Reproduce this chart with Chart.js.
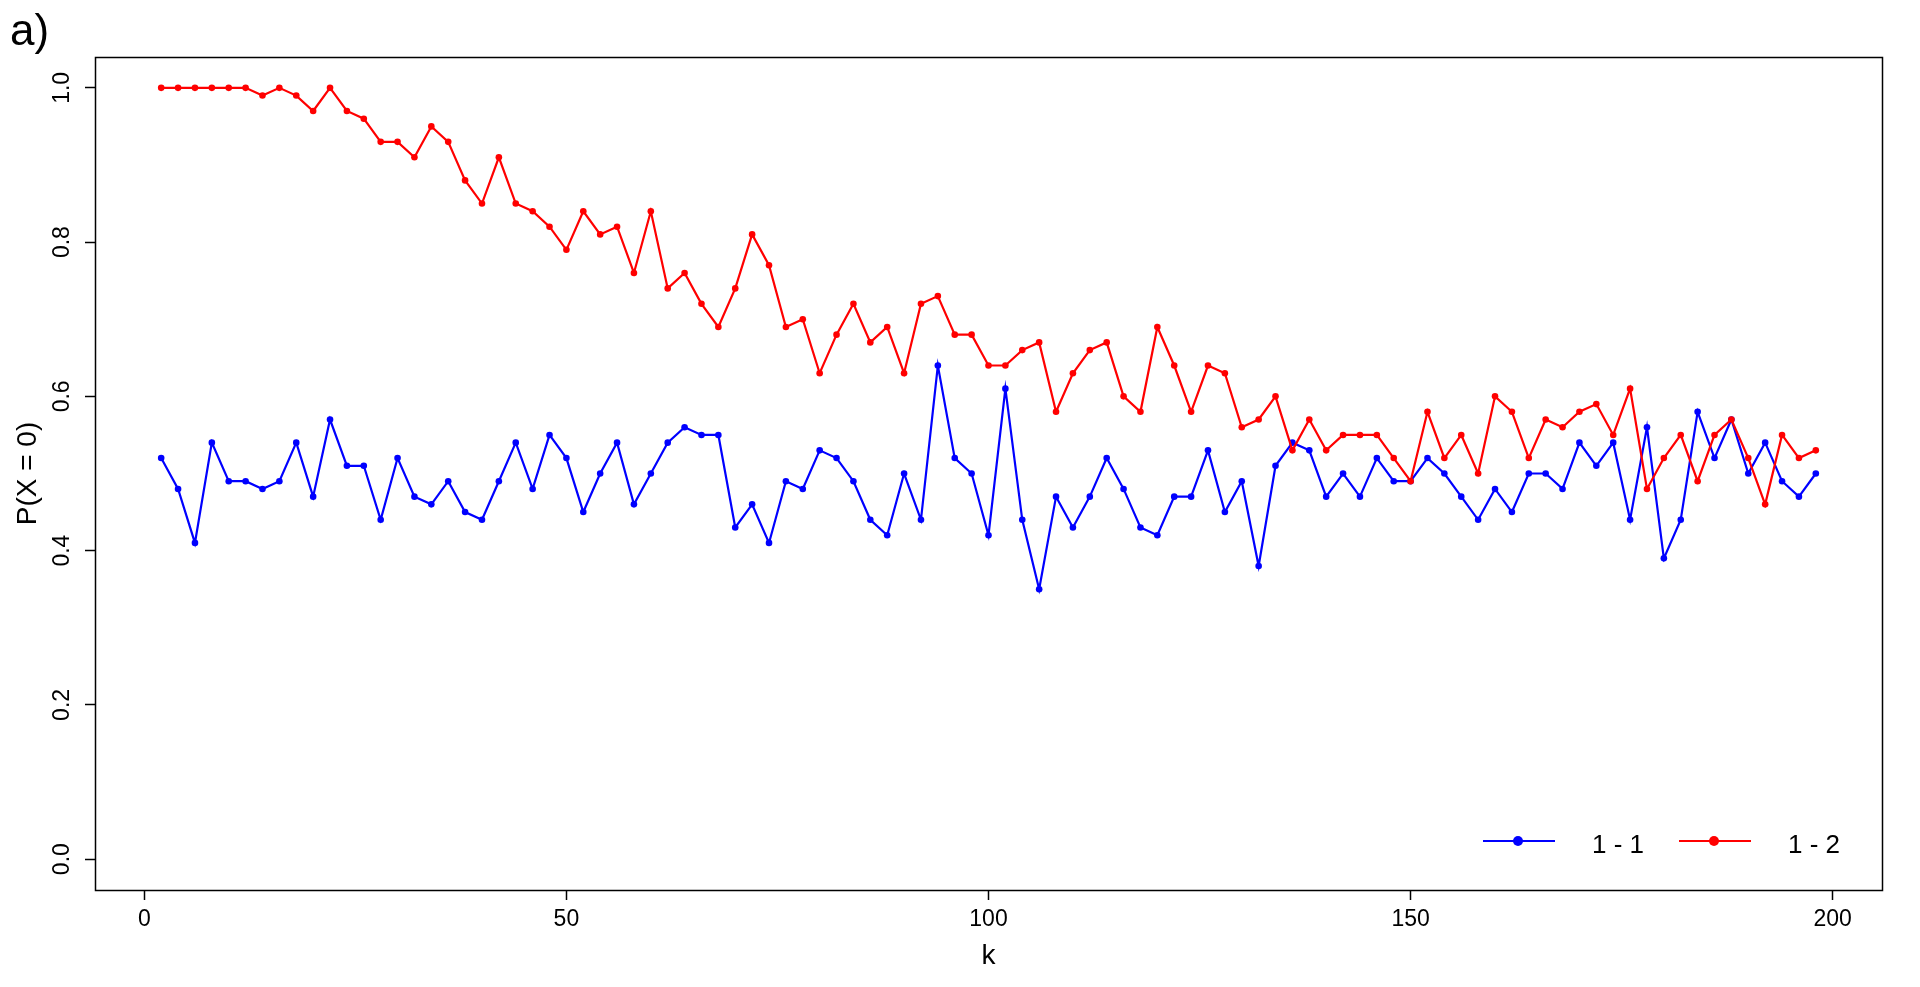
<!DOCTYPE html>
<html>
<head>
<meta charset="utf-8">
<title>P(X = 0)</title>
<script src="https://cdn.jsdelivr.net/npm/chart.js@4/dist/chart.umd.min.js"></script>
<style>
    html, body { margin: 0; padding: 0; background: #ffffff; }
    #wrap { width: 1920px; height: 987px; }
</style>
</head>
<body>
<div id="wrap"><canvas id="pChart" width="1920" height="987"></canvas></div>
<script>
// k values (x axis)
var kValues = [2, 4, 6, 8, 10, 12, 14, 16, 18, 20, 22, 24, 26, 28, 30, 32, 34, 36, 38, 40,
    42, 44, 46, 48, 50, 52, 54, 56, 58, 60, 62, 64, 66, 68, 70, 72, 74, 76, 78, 80,
    82, 84, 86, 88, 90, 92, 94, 96, 98, 100, 102, 104, 106, 108, 110, 112, 114, 116, 118, 120,
    122, 124, 126, 128, 130, 132, 134, 136, 138, 140, 142, 144, 146, 148, 150, 152, 154, 156, 158, 160,
    162, 164, 166, 168, 170, 172, 174, 176, 178, 180, 182, 184, 186, 188, 190, 192, 194, 196, 198];

// P(X = 0) for "1 - 1" (blue)
var series11 = [0.52, 0.48, 0.41, 0.54, 0.49, 0.49, 0.48, 0.49, 0.54, 0.47, 0.57, 0.51, 0.51, 0.44, 0.52, 0.47, 0.46, 0.49, 0.45, 0.44,
    0.49, 0.54, 0.48, 0.55, 0.52, 0.45, 0.50, 0.54, 0.46, 0.50, 0.54, 0.56, 0.55, 0.55, 0.43, 0.46, 0.41, 0.49, 0.48, 0.53,
    0.52, 0.49, 0.44, 0.42, 0.50, 0.44, 0.64, 0.52, 0.50, 0.42, 0.61, 0.44, 0.35, 0.47, 0.43, 0.47, 0.52, 0.48, 0.43, 0.42,
    0.47, 0.47, 0.53, 0.45, 0.49, 0.38, 0.51, 0.54, 0.53, 0.47, 0.50, 0.47, 0.52, 0.49, 0.49, 0.52, 0.50, 0.47, 0.44, 0.48,
    0.45, 0.50, 0.50, 0.48, 0.54, 0.51, 0.54, 0.44, 0.56, 0.39, 0.44, 0.58, 0.52, 0.57, 0.50, 0.54, 0.49, 0.47, 0.50];

// P(X = 0) for "1 - 2" (red)
var series12 = [1.00, 1.00, 1.00, 1.00, 1.00, 1.00, 0.99, 1.00, 0.99, 0.97, 1.00, 0.97, 0.96, 0.93, 0.93, 0.91, 0.95, 0.93, 0.88, 0.85,
    0.91, 0.85, 0.84, 0.82, 0.79, 0.84, 0.81, 0.82, 0.76, 0.84, 0.74, 0.76, 0.72, 0.69, 0.74, 0.81, 0.77, 0.69, 0.70, 0.63,
    0.68, 0.72, 0.67, 0.69, 0.63, 0.72, 0.73, 0.68, 0.68, 0.64, 0.64, 0.66, 0.67, 0.58, 0.63, 0.66, 0.67, 0.60, 0.58, 0.69,
    0.64, 0.58, 0.64, 0.63, 0.56, 0.57, 0.60, 0.53, 0.57, 0.53, 0.55, 0.55, 0.55, 0.52, 0.49, 0.58, 0.52, 0.55, 0.50, 0.60,
    0.58, 0.52, 0.57, 0.56, 0.58, 0.59, 0.55, 0.61, 0.48, 0.52, 0.55, 0.49, 0.55, 0.57, 0.52, 0.46, 0.55, 0.52, 0.53];

var seriesLabels = ["1 - 1", "1 - 2"];
var seriesColors = ["#0000ff", "#ff0000"];

// tick marks
var xTicks = [0, 50, 100, 150, 200];
var yTicks = [0, 0.2, 0.4, 0.6, 0.8, 1.0];

var FONT = "'Liberation Sans', Arial, sans-serif";

function toPoints(ys) {
    return kValues.map(function (k, i) {
        return { x: k, y: ys[i] };
    });
}

// box around the plot region, like R's box()
var boxPlugin = {
    id: "rBox",
    afterDraw: function (chart) {
        var c = chart.ctx, a = chart.chartArea;
        c.save();
        c.strokeStyle = "#000";
        c.lineWidth = 1.5;
        c.strokeRect(Math.round(a.left) + 0.5, Math.round(a.top) + 0.5,
            Math.round(a.right - a.left), Math.round(a.bottom - a.top));
        c.restore();
    },
};

// legend in the bottom-right corner: line + dot + label
var legendPlugin = {
    id: "rLegend",
    afterDraw: function (chart) {
        var c = chart.ctx, a = chart.chartArea;
        var starts = [a.right - 399, a.right - 203];
        var yLine = a.bottom - 49;
        c.save();
        chart.data.datasets.forEach(function (ds, i) {
            var x0 = starts[i];
            c.strokeStyle = ds.borderColor;
            c.lineWidth = 2;
            c.beginPath();
            c.moveTo(x0, yLine);
            c.lineTo(x0 + 72, yLine);
            c.stroke();
            c.fillStyle = ds.borderColor;
            c.beginPath();
            c.arc(x0 + 35, yLine, 5, 0, Math.PI * 2);
            c.fill();
            c.fillStyle = "#000";
            c.font = "26px " + FONT;
            c.textBaseline = "alphabetic";
            c.textAlign = "left";
            c.fillText(ds.label, x0 + 109, yLine + 12);
        });
        c.restore();
    },
};

// panel tag in the top-left corner
var tagPlugin = {
    id: "panelTag",
    afterDraw: function (chart) {
        var c = chart.ctx;
        c.save();
        c.fillStyle = "#000";
        c.font = "44px " + FONT;
        c.textBaseline = "alphabetic";
        c.textAlign = "left";
        c.fillText("a)", 10, 45);
        c.restore();
    },
};

var ctx = document.getElementById("pChart").getContext("2d");
var pChart = new Chart(ctx, {
    type: "line",
    data: {
        datasets: [
            {
                label: seriesLabels[0],
                data: toPoints(series11),
                borderColor: seriesColors[0],
                backgroundColor: seriesColors[0],
                borderWidth: 2.2,
                pointRadius: 3.3,
                pointBorderWidth: 0,
                pointHoverRadius: 3.3,
                tension: 0,
                fill: false,
                order: 1,
            },
            {
                label: seriesLabels[1],
                data: toPoints(series12),
                borderColor: seriesColors[1],
                backgroundColor: seriesColors[1],
                borderWidth: 2.2,
                pointRadius: 3.3,
                pointBorderWidth: 0,
                pointHoverRadius: 3.3,
                tension: 0,
                fill: false,
                order: 0,
            },
        ],
    },
    options: {
        responsive: false,
        animation: false,
        devicePixelRatio: 1,
        layout: {
            padding: { top: 57, right: 38, left: 0, bottom: 0 },
        },
        plugins: {
            legend: { display: false },
            tooltip: { enabled: false },
        },
        scales: {
            x: {
                type: "linear",
                min: -5.84, // R pads the data range by 4%
                max: 205.84,
                afterBuildTicks: function (scale) {
                    scale.ticks = xTicks.map(function (v) { return { value: v }; });
                },
                afterFit: function (scale) {
                    scale.height = 97;
                },
                border: { display: false },
                grid: {
                    drawOnChartArea: false,
                    drawTicks: true,
                    tickLength: 10,
                    tickColor: "#000",
                    tickWidth: 1.5,
                },
                ticks: {
                    color: "#000",
                    padding: 6,
                    maxRotation: 0,
                    font: { family: FONT, size: 23 },
                },
                title: {
                    display: true,
                    text: "k",
                    color: "#000",
                    font: { family: FONT, size: 28 },
                    padding: { top: 0, bottom: 14 },
                },
            },
            y: {
                type: "linear",
                min: -0.04,
                max: 1.04,
                afterBuildTicks: function (scale) {
                    scale.ticks = yTicks.map(function (v) { return { value: v }; });
                },
                afterFit: function (scale) {
                    scale.width = 95;
                },
                border: { display: false },
                grid: {
                    drawOnChartArea: false,
                    drawTicks: true,
                    tickLength: 10,
                    tickColor: "#000",
                    tickWidth: 1.5,
                },
                ticks: {
                    color: "#000",
                    padding: 6,
                    minRotation: 90,
                    maxRotation: 90,
                    crossAlign: "center",
                    font: { family: FONT, size: 23 },
                    callback: function (v) { return v.toFixed(1); },
                },
                title: {
                    display: true,
                    text: "P(X = 0)",
                    color: "#000",
                    font: { family: FONT, size: 28 },
                    padding: { top: 11, bottom: 0 },
                },
            },
        },
    },
    plugins: [boxPlugin, legendPlugin, tagPlugin],
});
</script>
</body>
</html>
